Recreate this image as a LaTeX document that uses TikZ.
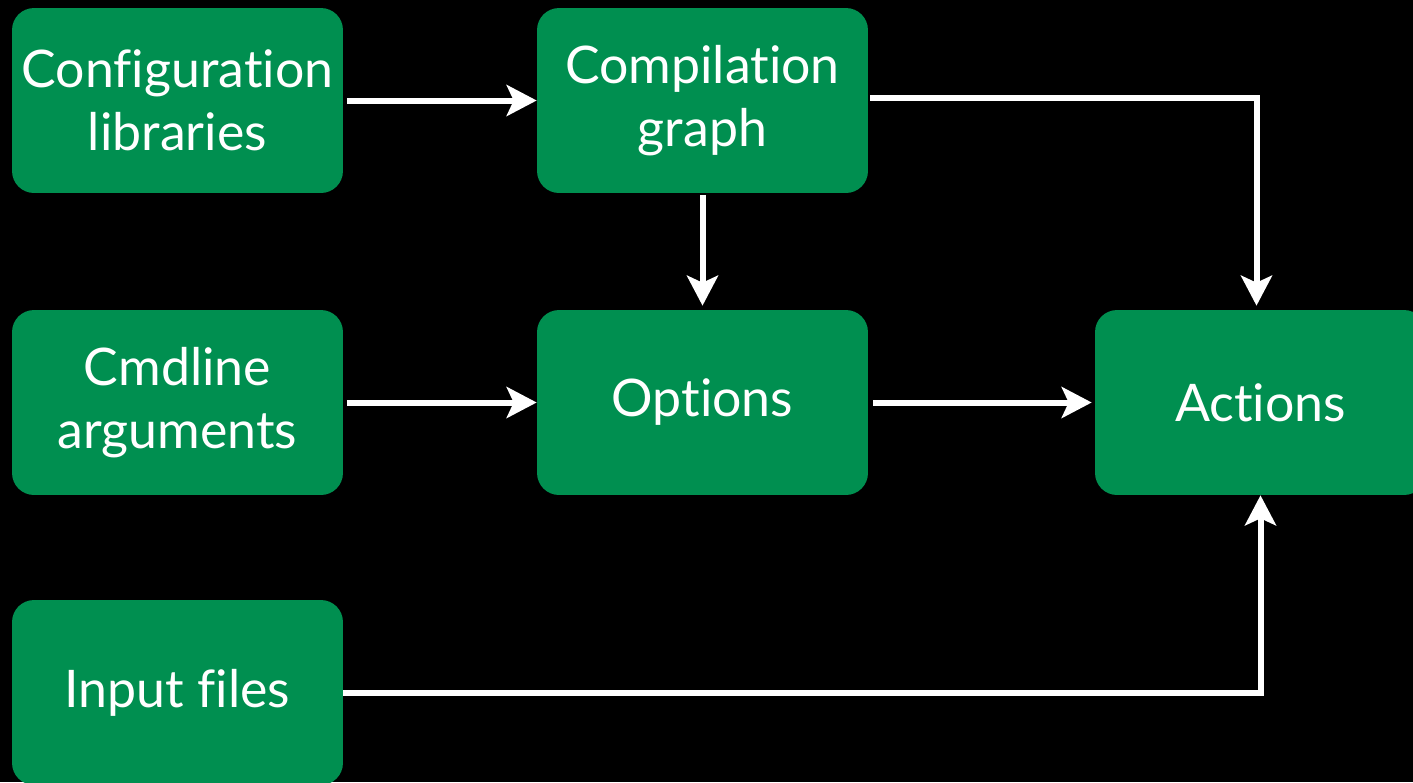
\documentclass[tikz,border=0pt]{standalone}
\usepackage{fontspec}
\setmainfont{Lato}[Ligatures={NoCommon}]
\usetikzlibrary{arrows.meta}
\definecolor{boxgreen}{RGB}{0,143,80}
\begin{document}
\begin{tikzpicture}[x=0.02cm,y=-0.02cm,
  box/.style={fill=boxgreen, rounded corners=0.44cm, minimum width=6.62cm, minimum height=3.7cm,
    text=white, font=\fontsize{29.5}{36}\selectfont, align=center, inner sep=0pt},
  conn/.style={draw=white, line width=0.12cm, -{Stealth[length=0.6cm,width=0.62cm,inset=0.14cm]}}]
\fill[black] (0,0) rectangle (1413,782);
\useasboundingbox (0,0) rectangle (1413,782);
\begin{scope}
\clip (0,0) rectangle (1413,782);
\node[box] (config)  at (177.5,100.5) {Configuration\\libraries};
\node[box] (compile) at (702.5,100.5) {Compilation\\graph};
\node[box] (cmdline) at (177.5,402.5) {Cmdline\\arguments};
\node[box] (options) at (702.5,402.5) {Options};
\node[box] (actions) at (1260.5,402.5) {Actions};
\node[box] (input)   at (177.5,692.5) {Input files};
\draw[conn, shorten <=2pt, shorten >=0pt] (config) -- (compile);
\draw[conn, shorten <=1pt, shorten >=0.08cm] (compile) -- (options);
\draw[conn, shorten <=0.04cm, shorten >=0.08cm] ([yshift=0.05cm]compile.east) -| ([xshift=-0.08cm]actions.north);
\draw[conn, shorten <=2pt] (cmdline) -- (options);
\draw[conn, shorten <=0.1cm, shorten >=0.06cm] (options) -- (actions);
\draw[conn] (input.east) -| (actions.south);
\end{scope}
\end{tikzpicture}
\end{document}
